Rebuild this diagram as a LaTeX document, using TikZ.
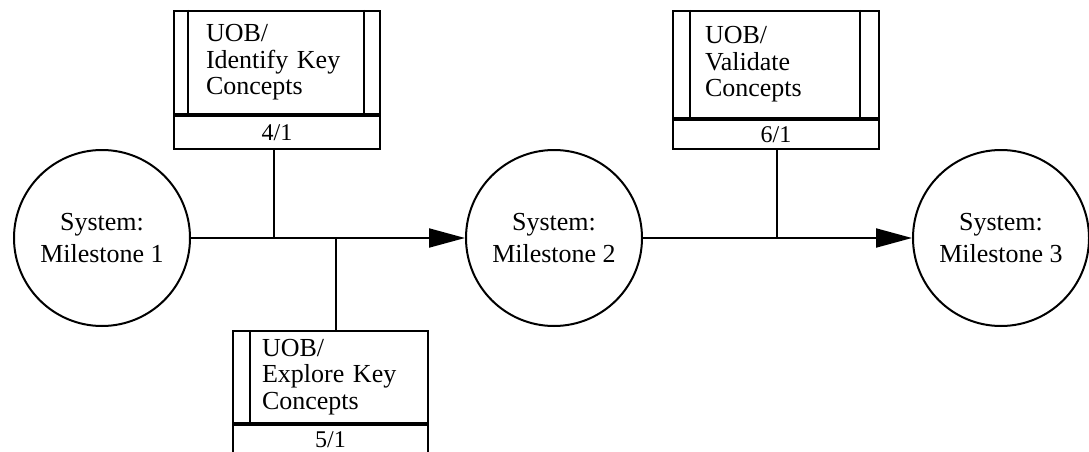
\documentclass[tikz,border=0pt]{standalone}
\usepackage{fontspec}
\setmainfont{Liberation Serif}
\usetikzlibrary{arrows.meta,positioning}
\tikzset{
  milestone/.style={draw,circle,line width=2pt,minimum size=176pt,inner sep=0pt,align=center,font=\fontsize{26}{32}\selectfont},
  taskbox/.style={draw,line width=2pt,anchor=north west,align=left,inner ysep=0pt,font=\fontsize{26}{26.5}\selectfont},
  tasknum/.style={draw,line width=2pt,anchor=north west,inner sep=0pt,font=\fontsize{24}{26}\selectfont},
  bar/.style={line width=2pt},
  flow/.style={line width=2pt,-{Triangle[length=36pt,width=19pt]}}
}
\begin{document}
\begin{tikzpicture}[x=1pt,y=-1pt]
  \useasboundingbox (0,0) rectangle (1089,452);
  \node[milestone] (m1) at (102,238) {System:\\Milestone 1};
  \node[milestone] (m2) at (554,238) {System:\\Milestone 2};
  \node[milestone] (m3) at (1001,238) {System:\\Milestone 3};
  \draw[flow] (m1) -- (m2);
  \draw[flow] (m2) -- (m3);
  % junctions on the flow lines
  \coordinate (j1) at (274,238);
  \coordinate (j2) at (336,238);
  \coordinate (j3) at (777,238);
  % identify
  \node[taskbox,minimum width=206pt,minimum height=103pt,text width=142pt,inner xsep=32pt] (b1) at (173,10) {UOB/\\Identify Key\\Concepts};
  \node[tasknum,minimum width=206pt,minimum height=33pt] (n1) at (b1.south west) {4/1};
  \draw[bar] ([xshift=15pt]b1.north west) -- ([xshift=15pt]b1.south west);
  \draw[bar] ([xshift=-17pt]b1.north east) -- ([xshift=-17pt]b1.south east);
  \draw[bar] (n1.south -| j1) -- (j1);
  % explore
  \node[taskbox,minimum width=195pt,minimum height=92pt,text width=137pt,inner xsep=29pt] (b2) at (232,330) {UOB/\\Explore Key\\Concepts};
  \node[tasknum,minimum width=195pt,minimum height=29pt] (n2) at (b2.south west) {5/1};
  \draw[bar] ([xshift=18pt]b2.north west) -- ([xshift=18pt]b2.south west);
  \draw[bar] (b2.north -| j2) -- (j2);
  % validate
  \node[taskbox,minimum width=206pt,minimum height=107pt,text width=142pt,inner xsep=32pt] (b3) at (672,10) {UOB/\\Validate\\Concepts};
  \node[tasknum,minimum width=206pt,minimum height=29pt] (n3) at (b3.south west) {6/1};
  \draw[bar] ([xshift=18pt]b3.north west) -- ([xshift=18pt]b3.south west);
  \draw[bar] ([xshift=-20pt]b3.north east) -- ([xshift=-20pt]b3.south east);
  \draw[bar] (n3.south -| j3) -- (j3);
\end{tikzpicture}
\end{document}
